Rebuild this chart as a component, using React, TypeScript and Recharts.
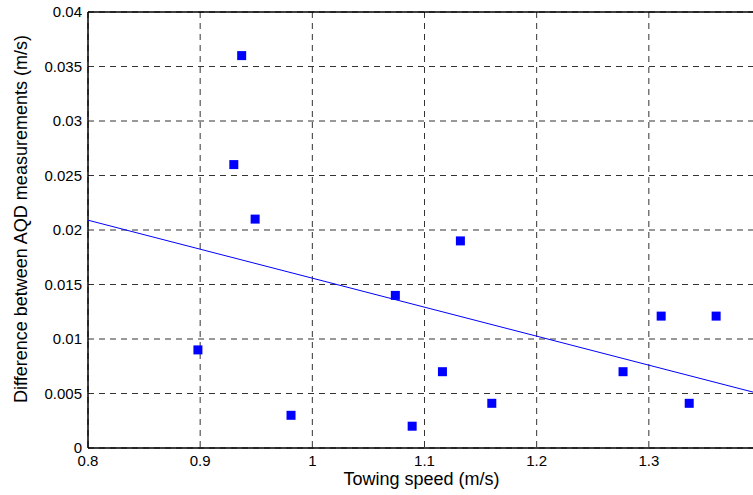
import React from "react";
import {
  ComposedChart,
  Scatter,
  XAxis,
  YAxis,
  CartesianGrid,
  ReferenceLine,
  Label,
} from "recharts";

const towingSpeed = [0.898, 0.93, 0.937, 0.949, 0.981, 1.074, 1.089, 1.116, 1.132, 1.16, 1.277, 1.311, 1.336, 1.36];
const aqdDifference = [0.009, 0.026, 0.036, 0.021, 0.003, 0.014, 0.002, 0.007, 0.019, 0.0041, 0.007, 0.0121, 0.0041, 0.0121];

const fitSpeed = [0.8, 1.4];
const fitDifference = [0.0209, 0.00494];

const xTicks = [0.8, 0.9, 1, 1.1, 1.2, 1.3];
const yTicks = [0, 0.005, 0.01, 0.015, 0.02, 0.025, 0.03, 0.035, 0.04];

const points = towingSpeed.map((x, i) => ({ x, y: aqdDifference[i] }));
const fitLine = fitSpeed.map((x, i) => ({ x, y: fitDifference[i] }));

const FONT = "'Liberation Sans', Arial, Helvetica, sans-serif";

const Square = (props: any) => {
  const { cx, cy } = props;
  if (cx == null || cy == null) return <g />;
  return <rect x={cx - 4.5} y={cy - 4.5} width={9} height={9} fill="#0000ff" />;
};

const NoShape = () => <g />;

const YLabel = () => {
  const cx = 27;
  const cy = 219;
  return (
    <text
      x={cx}
      y={cy}
      transform={`rotate(-90, ${cx}, ${cy})`}
      textAnchor="middle"
      fontSize={18}
      fontFamily={FONT}
      fill="#000"
    >
      Difference between AQD measurements (m/s)
    </text>
  );
};

const XLabel = () => (
  <text
    x={421.5}
    y={485}
    textAnchor="middle"
    fontSize={18}
    fontFamily={FONT}
    fill="#000"
  >
    Towing speed (m/s)
  </text>
);

export default function App() {
  return (
    <div
      style={{
        position: "absolute",
        left: 0,
        top: 0,
        width: 753,
        height: 495,
        overflow: "hidden",
        background: "#fff",
      }}
    >
      <ComposedChart
        width={770}
        height={495}
        margin={{ top: 12, right: 9, bottom: 0, left: 0 }}
      >
        <CartesianGrid
          stroke="#333"
          strokeDasharray="6 5"
          vertical
          horizontal
        />
        <XAxis
          type="number"
          dataKey="x"
          domain={[0.8, 1.4]}
          ticks={xTicks}
          interval={0}
          allowDataOverflow
          height={47}
          tickLine={false}
          tickSize={5}
          tickMargin={2}
          stroke="#000"
          tick={{ fill: "#000", fontSize: 15, fontFamily: FONT }}
          axisLine={{ stroke: "#000", strokeWidth: 1.5 }}
        >
          <Label content={<XLabel />} />
        </XAxis>
        <YAxis
          type="number"
          dataKey="y"
          domain={[0, 0.04]}
          ticks={yTicks}
          interval={0}
          allowDataOverflow
          width={88}
          tickLine={false}
          tickSize={1}
          tickMargin={5}
          stroke="#000"
          tick={{ fill: "#000", fontSize: 15, fontFamily: FONT }}
          axisLine={{ stroke: "#000", strokeWidth: 1.5 }}
        >
          <Label content={<YLabel />} />
        </YAxis>
        <ReferenceLine y={0.04} stroke="#000" strokeWidth={1.5} />
        <Scatter
          data={fitLine}
          line={{ stroke: "#0000ff", strokeWidth: 1 }}
          shape={<NoShape />}
          isAnimationActive={false}
        />
        <Scatter
          data={points}
          shape={<Square />}
          isAnimationActive={false}
        />
      </ComposedChart>
    </div>
  );
}
